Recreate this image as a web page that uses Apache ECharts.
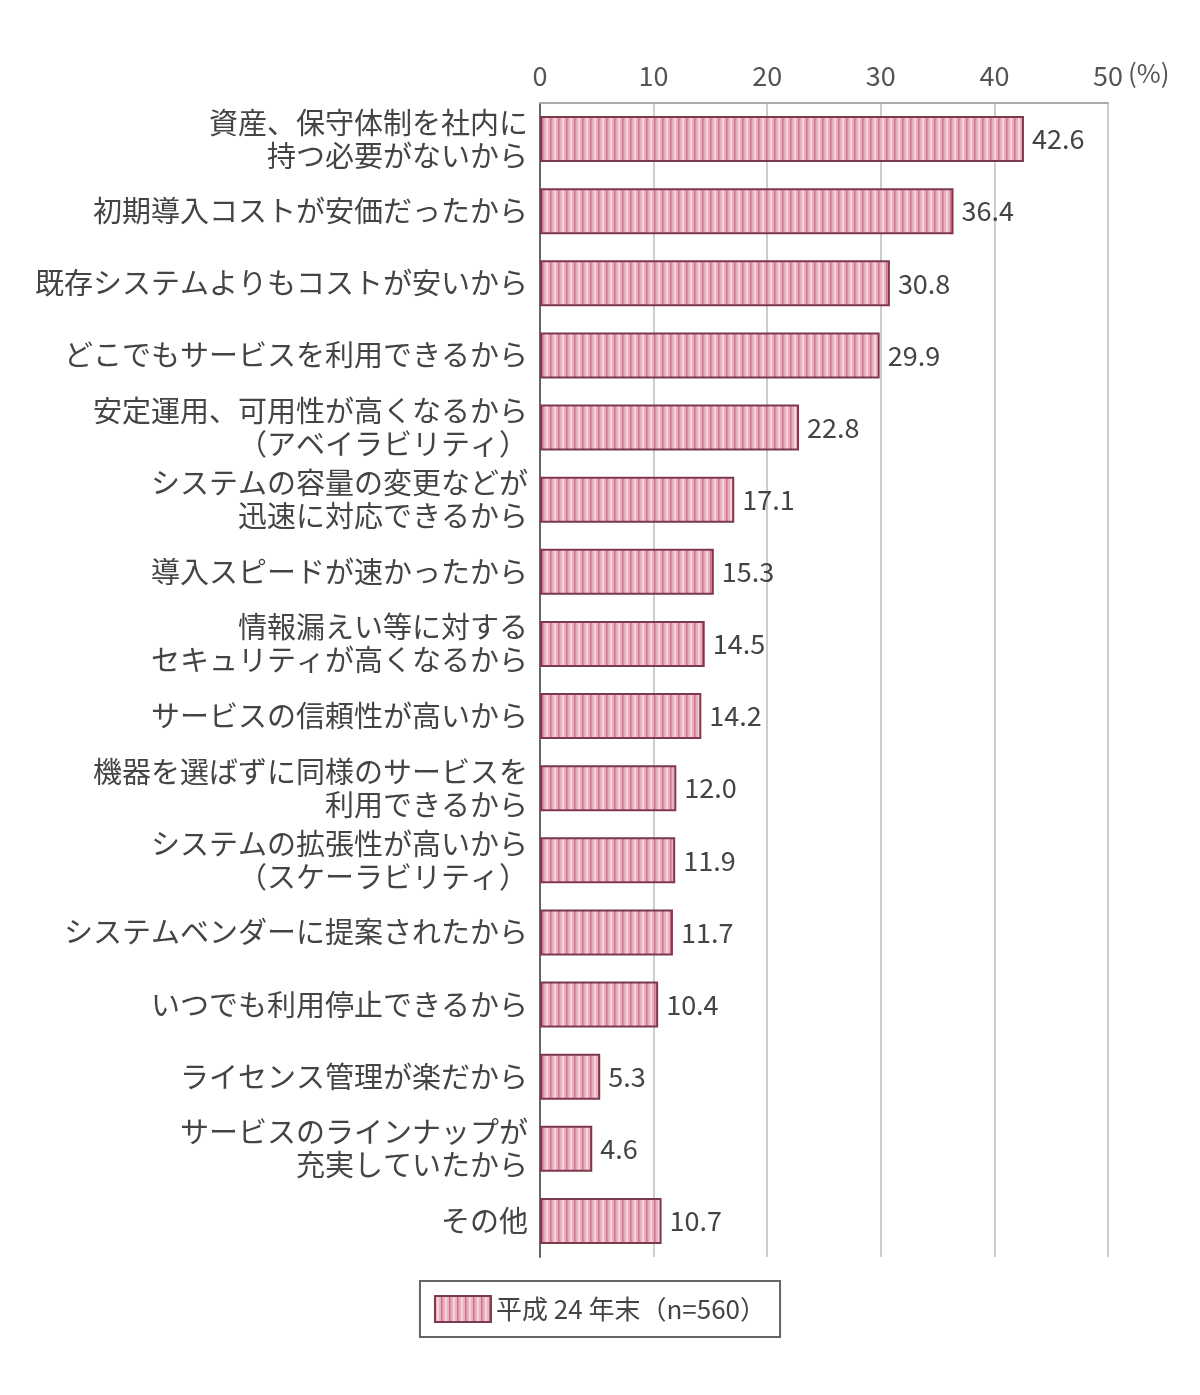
<!DOCTYPE html>
<html><head><meta charset="utf-8">
<script src="https://cdn.jsdelivr.net/npm/echarts@6/dist/echarts.min.js"></script>
<style>html,body{margin:0;background:#fff}#c{width:1200px;height:1395px}</style>
</head><body><div id="c"></div>
<script>
const categories = [
 "資産、保守体制を社内に\n持つ必要がないから",
 "初期導入コストが安価だったから",
 "既存システムよりもコストが安いから",
 "どこでもサービスを利用できるから",
 "安定運用、可用性が高くなるから\n（アベイラビリティ）",
 "システムの容量の変更などが\n迅速に対応できるから",
 "導入スピードが速かったから",
 "情報漏えい等に対する\nセキュリティが高くなるから",
 "サービスの信頼性が高いから",
 "機器を選ばずに同様のサービスを\n利用できるから",
 "システムの拡張性が高いから\n（スケーラビリティ）",
 "システムベンダーに提案されたから",
 "いつでも利用停止できるから",
 "ライセンス管理が楽だから",
 "サービスのラインナップが\n充実していたから",
 "その他"
];
const values = [42.6,36.4,30.8,29.9,22.8,17.1,15.3,14.5,14.2,12.0,11.9,11.7,10.4,5.3,4.6,10.7];
const seriesName = "平成 24 年末（n=560）";

const cv = document.createElement('canvas'); cv.width = 8; cv.height = 4;
const g = cv.getContext('2d');
g.fillStyle = '#eab0c0'; g.fillRect(0,0,8,4);
g.fillStyle = '#f6d3dd'; g.fillRect(2,0,2,4);
g.fillStyle = '#c9758f'; g.fillRect(6,0,1.5,4);

const font = '"Noto Sans CJK JP", sans-serif';
const chart = echarts.init(document.getElementById('c'));
chart.setOption({
  animation:false,
  grid:{left:540,right:92,top:103,bottom:138,containLabel:false},
  xAxis:{type:'value',position:'top',min:0,max:50,interval:10,
    axisLine:{show:true,lineStyle:{color:'#aaa',width:2}},
    axisTick:{show:false},
    axisLabel:{color:'#555',fontSize:27,fontFamily:font,margin:14},
    splitLine:{lineStyle:{color:'#ccc',width:2}}},
  yAxis:{type:'category',inverse:true,data:categories,
    axisLine:{lineStyle:{color:'#666',width:2}},
    axisTick:{inside:true,length:10,lineStyle:{color:'#666',width:2}},
    axisLabel:{color:'#444',fontSize:29,fontFamily:font,lineHeight:33,margin:12}},
  legend:{bottom:58,left:'center',itemWidth:56,itemHeight:26,icon:'rect',
    padding:[14,14,14,14],borderColor:'#666',borderWidth:2,
    textStyle:{color:'#444',fontSize:26,fontFamily:font},
    data:[seriesName]},
  series:[{name:seriesName,type:'bar',data:values,barWidth:46,
    itemStyle:{color:{image:cv,repeat:'repeat'},borderColor:'#7a3a4a',borderWidth:2},
    label:{show:true,position:'right',distance:8,color:'#444',fontSize:27,fontFamily:font,
      formatter:p=>p.value.toFixed(1)}}],
  graphic:[{type:'text',left:1128,top:60,style:{text:'(%)',fill:'#555',fontSize:26,fontFamily:font}}]
});
</script></body></html>
